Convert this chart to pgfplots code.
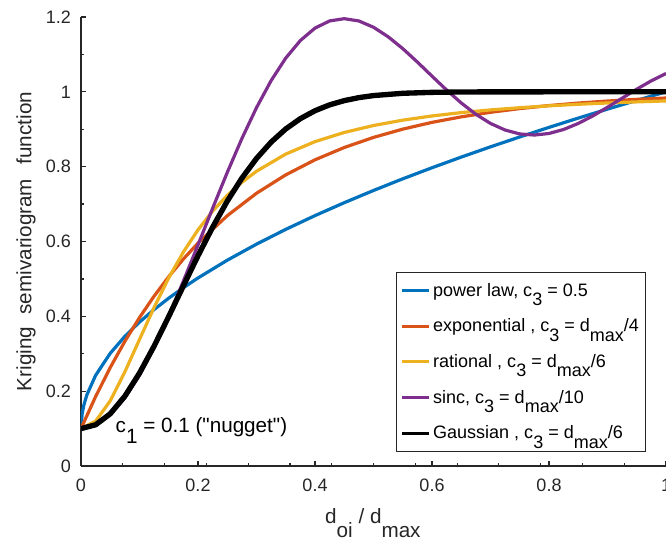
\documentclass[border=0pt]{standalone}
\usepackage{fontspec}
\setmainfont{Liberation Sans}
\usepackage{pgfplots}
\pgfplotsset{compat=1.18}

\definecolor{mblue}{rgb}{0,0.447,0.741}
\definecolor{morange}{rgb}{0.85,0.325,0.098}
\definecolor{myellow}{rgb}{0.929,0.694,0.125}
\definecolor{mpurple}{rgb}{0.494,0.184,0.556}
\definecolor{axgray}{rgb}{0.15,0.15,0.15}

\newcommand{\tickfont}{\fontsize{13.5}{16}\selectfont}
\newcommand{\legfont}{\fontsize{13.5}{16}\selectfont}
\newcommand{\labfont}{\fontsize{15.5}{18}\selectfont}
% MATLAB-style subscript: full size, dropped low
\newcommand{\sub}[2][0.52em]{\raisebox{-#1}{#2}}

\begin{document}
\begin{tikzpicture}
\begin{axis}[
  scale only axis,
  width=438.75pt,
  height=336.75pt,
  xmin=0, xmax=1,
  ymin=0, ymax=1.2,
  axis x line*=bottom,
  axis y line*=left,
  axis line style={axgray, line width=0.9pt},
  xtick={0,0.2,0.4,0.6,0.8,1},
  ytick={0,0.2,0.4,0.6,0.8,1,1.2},
  minor xtick={0.0714,0.1429,0.2143,0.2857,0.3571,0.4286,0.5,0.5714,0.6429,0.7143,0.7857,0.8571,0.9286},
  minor ytick={0.1,0.3,0.5,0.7,0.9,1.1},
  xtick align=inside,
  ytick align=inside,
  major tick length=3.75pt,
  minor tick length=2pt,
  tick style={axgray, line width=0.9pt},
  tick label style={font=\tickfont, text=axgray, /pgf/number format/assume math mode=true},
  yticklabel style={xshift=-4pt},
  xticklabel style={yshift=-6.5pt},
  every axis y label/.style={at={(axis description cs:-0.094,0.5)}, rotate=90, anchor=center, font=\labfont, text=axgray},
  every axis x label/.style={at={(axis description cs:0.499,-0.127)}, anchor=base, font=\labfont, text=axgray},
  xlabel={d\sub[0.68em]{oi} / d\sub[0.68em]{max}},
  ylabel={Kriging\hspace{0.6em}semivariogram\hspace{0.7em}function},
  legend style={at={(axis cs:0.966,0.037)}, anchor=south east, font=\legfont,
    draw=axgray, line width=0.9pt, fill=white, text=black,
    cells={anchor=west}, row sep=11.5pt, inner xsep=3pt, inner ysep=6pt},
  legend image code/.code={\draw[#1, line width=2.3pt] (0pt,0pt) -- (20pt,0pt);},
  every axis plot/.append style={line width=2.4pt, line join=round},
]
\addplot[mblue] coordinates {(0,0.1) (0.002,0.1402) (0.005,0.1636) (0.01,0.19) (0.025,0.2423) (0.05,0.3012) (0.075,0.3465) (0.1,0.3846) (0.125,0.4182) (0.15,0.4486) (0.175,0.4765) (0.2,0.5025) (0.25,0.55) (0.3,0.5929) (0.35,0.6324) (0.4,0.6692) (0.45,0.7037) (0.5,0.7364) (0.55,0.7675) (0.6,0.7971) (0.65,0.8256) (0.7,0.853) (0.75,0.8794) (0.8,0.905) (0.85,0.9298) (0.9,0.9538) (0.95,0.9772) (1,1)};
\addlegendentry{power law, c\sub{3} = 0.5}
\addplot[morange] coordinates {(0,0.1) (0.025,0.1856) (0.05,0.2632) (0.075,0.3333) (0.1,0.3967) (0.125,0.4541) (0.15,0.5061) (0.175,0.5531) (0.2,0.5956) (0.25,0.6689) (0.3,0.7289) (0.35,0.7781) (0.4,0.8183) (0.45,0.8512) (0.5,0.8782) (0.55,0.9003) (0.6,0.9184) (0.65,0.9331) (0.7,0.9453) (0.75,0.9552) (0.8,0.9633) (0.85,0.97) (0.9,0.9754) (0.95,0.9799) (1,0.9835)};
\addlegendentry{exponential , c\sub{3} = d\sub{max}/4}
\addplot[myellow] coordinates {(0,0.1) (0.025,0.1198) (0.05,0.1743) (0.075,0.2516) (0.1,0.3382) (0.125,0.424) (0.15,0.5028) (0.175,0.5719) (0.2,0.6311) (0.225,0.6811) (0.25,0.7231) (0.275,0.7582) (0.3,0.7877) (0.35,0.8337) (0.4,0.8669) (0.45,0.8914) (0.5,0.91) (0.55,0.9243) (0.6,0.9355) (0.65,0.9445) (0.7,0.9517) (0.75,0.9576) (0.8,0.9626) (0.85,0.9667) (0.9,0.9702) (0.95,0.9731) (1,0.9757)};
\addlegendentry{rational , c\sub{3} = d\sub{max}/6}
\addplot[mpurple] coordinates {(0,0.1) (0.025,0.1094) (0.05,0.137) (0.075,0.182) (0.1,0.2427) (0.125,0.3167) (0.15,0.4015) (0.175,0.4939) (0.2,0.5908) (0.225,0.6888) (0.25,0.7845) (0.275,0.8751) (0.3,0.9577) (0.325,1.03) (0.35,1.0902) (0.375,1.1372) (0.4,1.1703) (0.425,1.1895) (0.45,1.1955) (0.475,1.1894) (0.5,1.1726) (0.525,1.1472) (0.55,1.1155) (0.575,1.0796) (0.6,1.0419) (0.625,1.0048) (0.65,0.9702) (0.675,0.94) (0.7,0.9155) (0.725,0.8979) (0.75,0.8874) (0.775,0.8845) (0.8,0.8887) (0.825,0.8994) (0.85,0.9155) (0.875,0.9357) (0.9,0.9588) (0.925,0.983) (0.95,1.0071) (0.975,1.0295) (1,1.049)};
\addlegendentry{sinc, c\sub{3} = d\sub{max}/10}
\addplot[black, line width=4pt] coordinates {(0,0.1) (0.025,0.1101) (0.05,0.1396) (0.075,0.1867) (0.1,0.2483) (0.125,0.3206) (0.15,0.3997) (0.175,0.4814) (0.2,0.5619) (0.225,0.6382) (0.25,0.7078) (0.275,0.7693) (0.3,0.8219) (0.325,0.8656) (0.35,0.9008) (0.375,0.9284) (0.4,0.9495) (0.425,0.9652) (0.45,0.9765) (0.475,0.9845) (0.5,0.99) (0.55,0.9961) (0.6,0.9986) (0.65,0.9996) (0.7,0.9999) (0.8,1) (1,1)};
\addlegendentry{Gaussian , c\sub{3} = d\sub{max}/6}
\node[anchor=base west, font=\labfont, text=black] at (axis cs:0.0513,0.089) {c\sub{1} = 0.1 (\textquotedbl nugget\textquotedbl)};
\end{axis}
% crop like the reference: the right edge falls on x = 1
\pgfresetboundingbox
\useasboundingbox ([xshift=-60.75pt,yshift=-57pt]current axis.south west) rectangle ([yshift=12.75pt]current axis.north east);
\end{tikzpicture}
\end{document}
